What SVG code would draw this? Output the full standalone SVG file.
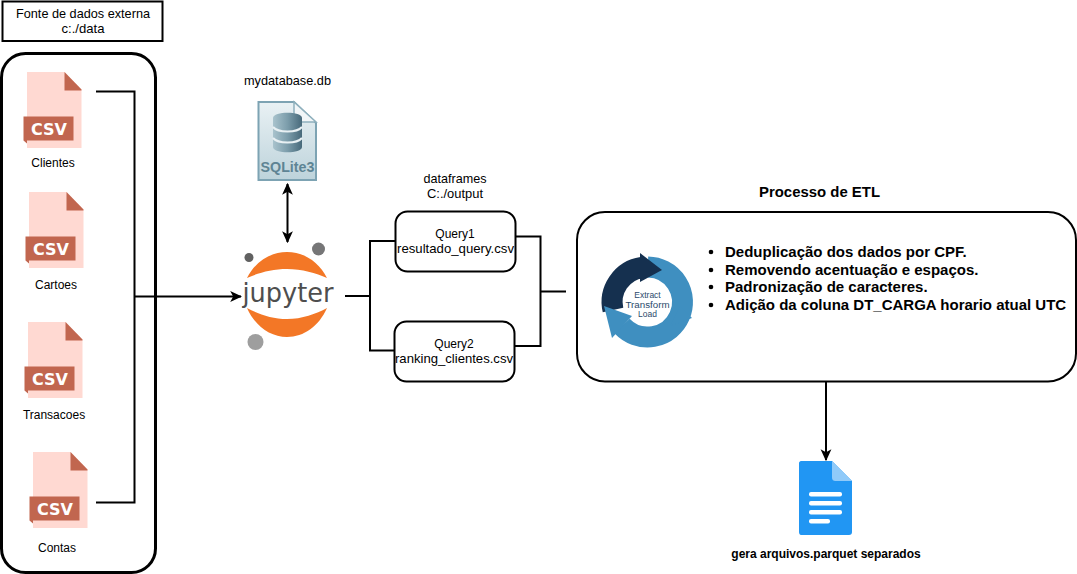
<svg xmlns="http://www.w3.org/2000/svg" width="1077" height="574" viewBox="0 0 1077 574">
<defs>
<style>
text{font-family:"Liberation Sans",Arial,sans-serif;fill:#000;text-anchor:middle}
.s{font-size:12px}
.w{font-size:12.7px}
.b{fill:#fff;stroke:#000;stroke-width:2}
.c{fill:none;stroke:#000;stroke-width:2}
.lbl{fill:#fff;font-size:15px;font-weight:bold;font-family:"DejaVu Sans",sans-serif}
.etl{font-size:8.500px;fill:#2b4a6b}
.li{text-anchor:start}
</style>
<marker id="a2" viewBox="0 0 10 10" refX="9" refY="5" markerWidth="12" markerHeight="12" orient="auto-start-reverse" markerUnits="userSpaceOnUse"><path d="M0 0.500L10 5L0 9.500L2.500 5Z" fill="#000"/></marker>
<linearGradient id="sq" x1="0" x2="0" y1="0" y2="1"><stop offset="0" stop-color="#e9f1f4"/><stop offset="1" stop-color="#bdd3db"/></linearGradient>
<linearGradient id="cy" x1="0" x2="1" y1="0" y2="0"><stop offset="0" stop-color="#a9c3cd"/><stop offset="0.5" stop-color="#7c9dab"/><stop offset="1" stop-color="#47697a"/></linearGradient>
<g id="csv">
<path d="M0 0H37.500L54.500 17.500V76H0Z" fill="#ffd9d2"/>
<path d="M37.500 0L54.500 17.500V18.500H37.500Z" fill="#c1664f"/>
<path d="M-3.500 44.500H46.500V68.500H0V71.500L-3.500 68.500Z" fill="#c1664f"/>
<text x="22" y="62.500" class="lbl" textLength="36" lengthAdjust="spacingAndGlyphs">CSV</text>
</g>
</defs>

<g id="connectors">
<path class="c" d="M96 91.500H134.500V502.500H96"/>
<path class="c" d="M134.500 296.500H241" marker-end="url(#a2)"/>
<path class="c" d="M287.500 184V242" marker-start="url(#a2)" marker-end="url(#a2)"/>
<path class="c" d="M345 296H370M395 241H370V350.500H394"/>
<path class="c" d="M516 236.500H540.500V346H515M540.500 291.500H566"/>
<path class="c" d="M826 382V460" marker-end="url(#a2)"/>
</g>

<g id="fonte-label">
<rect x="2.500" y="1.500" width="160" height="39.500" fill="#fff" stroke="#000" stroke-width="2"/>
<text class="w" x="83" y="18" textLength="134" lengthAdjust="spacingAndGlyphs">Fonte de dados externa</text>
<text class="w" x="83" y="33" textLength="43" lengthAdjust="spacingAndGlyphs">c:./data</text>
</g>
<rect id="fonte-box" x="1.500" y="53.500" width="154" height="519" rx="24" fill="none" stroke="#000" stroke-width="3"/>

<g id="clientes"><use href="#csv" x="27" y="72"/><text class="s" x="53" y="167">Clientes</text></g>
<g id="cartoes"><use href="#csv" x="29" y="192"/><text class="s" x="56" y="289">Cartoes</text></g>
<g id="transacoes"><use href="#csv" x="28" y="322"/><text class="s" x="54" y="419">Transacoes</text></g>
<g id="contas"><use href="#csv" x="33" y="452"/><text class="s" x="57" y="552">Contas</text></g>

<g id="sqlite">
<text class="w" x="287.500" y="85" textLength="87" lengthAdjust="spacingAndGlyphs">mydatabase.db</text>
<path d="M258.500 102H294L316 123V180H258.500Z" fill="url(#sq)" stroke="#7da3b3" stroke-width="2"/>
<path d="M294 102V119C294 121 295 122 297 122H316Z" fill="#f2f6f8" stroke="#8fb0bd" stroke-width="1.500"/>
<path d="M273 118C273 111 302 111 302 118V147C302 154 273 154 273 147Z" fill="url(#cy)"/>
<path d="M273 127C278 133 297 133 302 127M273 138C278 144 297 144 302 138" fill="none" stroke="#e8f0f3" stroke-width="2"/>
<text x="287.500" y="172" style="font-size:15px;font-weight:bold;fill:#5e8494" textLength="54" lengthAdjust="spacingAndGlyphs">SQLite3</text>
</g>

<g id="jupyter">
<path d="M247 278C255 262 270 252 287 252C304 252 319 262 327 278C316 273 302 269 287 269C272 269 258 273 247 278Z" fill="#f37726"/>
<path d="M247 308C258 314 272 319 287 319C302 319 316 314 327 308C319 326 304 337 287 337C270 337 255 326 247 308Z" fill="#f37726"/>
<text x="288" y="302" style="font-size:27px;font-family:'DejaVu Sans',sans-serif;fill:#4e4e4e" textLength="91" lengthAdjust="spacingAndGlyphs">jupyter</text>
<circle cx="249" cy="257.500" r="4.500" fill="#616161"/>
<circle cx="318.500" cy="249" r="6.500" fill="#767677"/>
<circle cx="255.500" cy="342" r="8" fill="#9e9e9e"/>
</g>

<g id="dataframes-label">
<text class="w" x="455" y="183" textLength="63" lengthAdjust="spacingAndGlyphs">dataframes</text>
<text class="w" x="455" y="198" textLength="56" lengthAdjust="spacingAndGlyphs">C:./output</text>
</g>
<g id="query1">
<rect class="b" x="395.500" y="211.500" width="120" height="60" rx="12"/>
<text class="s" x="455" y="238">Query1</text>
<text class="w" x="455.500" y="253" textLength="117" lengthAdjust="spacingAndGlyphs">resultado_query.csv</text>
</g>
<g id="query2">
<rect class="b" x="394.500" y="321.500" width="120" height="60" rx="12"/>
<text class="s" x="454" y="348">Query2</text>
<text class="w" x="454" y="363" textLength="118" lengthAdjust="spacingAndGlyphs">ranking_clientes.csv</text>
</g>

<g id="etl">
<text x="819.500" y="197" style="font-size:15px;font-weight:bold" textLength="121" lengthAdjust="spacingAndGlyphs">Processo de ETL</text>
<rect class="b" x="577" y="212" width="499" height="169.500" rx="28"/>
<path d="M648 267A35 35 0 1 1 622 326" fill="none" stroke="#3f8fc0" stroke-width="21"/>
<path d="M680 306L692 318L670 326Z" fill="#3f8fc0"/>
<path d="M613 310A35 35 0 0 1 642 267.500" fill="none" stroke="#15304f" stroke-width="21"/>
<path d="M640 253L662 270L640 282Z" fill="#15304f"/>
<path d="M604 306L632 316L612 338Z" fill="#3f8fc0"/>
<text class="etl" x="647.500" y="298">Extract</text>
<text class="etl" x="647.500" y="307.500" textLength="44" lengthAdjust="spacingAndGlyphs">Transform</text>
<text class="etl" x="647.500" y="317">Load</text>
<g style="font-size:15px;font-weight:bold">
<circle cx="711" cy="252" r="2.300"/><text class="li" x="725" y="257">Deduplicação dos dados por CPF.</text>
<circle cx="711" cy="270" r="2.300"/><text class="li" x="725" y="275">Removendo acentuação e espaços.</text>
<circle cx="711" cy="287" r="2.300"/><text class="li" x="725" y="292">Padronização de caracteres.</text>
<circle cx="711" cy="305" r="2.300"/><text class="li" x="725" y="310">Adição da coluna DT_CARGA horario atual UTC</text>
</g>
</g>

<g id="parquet">
<path d="M801 461H832L852 481V532C852 534 851 535 849 535H801C800 535 799 534 799 532V463C799 462 800 461 801 461Z" fill="#2196f3"/>
<path d="M832 461L852 481H836C833 481 832 480 832 477Z" fill="#90caf9"/>
<g fill="#fff">
<rect x="809" y="492" width="33" height="4.500" rx="2"/>
<rect x="809" y="501" width="33" height="4.500" rx="2"/>
<rect x="809" y="510" width="33" height="4.500" rx="2"/>
<rect x="809" y="519" width="21" height="4.500" rx="2"/>
</g>
<text class="s" x="826" y="558" style="font-weight:bold">gera arquivos.parquet separados</text>
</g>
</svg>
